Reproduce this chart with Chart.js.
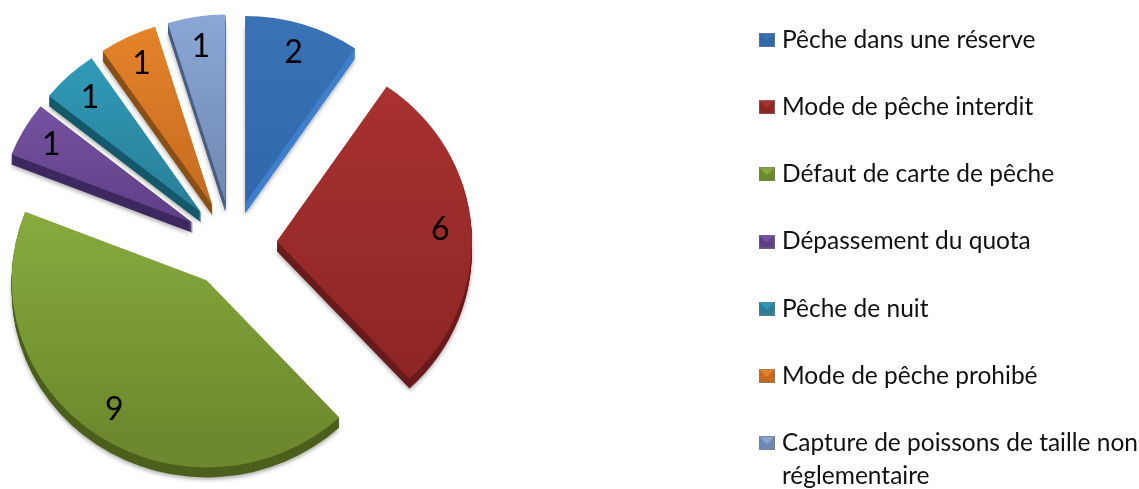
<!DOCTYPE html>
<html lang="fr">
<head>
<meta charset="utf-8">
<title>Infractions</title>
<script src="https://cdn.jsdelivr.net/npm/chart.js@4/dist/chart.umd.min.js"></script>
<style>
  html, body { margin: 0; padding: 0; background: #fff; }
  canvas { display: block; }
</style>
</head>
<body>
<canvas id="pieChart" width="1139" height="489"></canvas>
<script>
const categories = [
    'Pêche dans une réserve',
    'Mode de pêche interdit',
    'Défaut de carte de pêche',
    'Dépassement du quota',
    'Pêche de nuit',
    'Mode de pêche prohibé',
    ['Capture de poissons de taille non', 'réglementaire']
];
const values = [2, 6, 9, 1, 1, 1, 1];
const colorsLight = ['#3a72b6', '#a83230', '#88aa3e', '#7552a0', '#2f9ab8', '#e5832a', '#8aa7d6'];
const colorsDark = ['#3068ab', '#8c2524', '#6e892d', '#5f3f86', '#2a7e96', '#c46a1f', '#7088b1'];
const colorsSide = ['#3f7fcc', '#6b1a1c', '#4c601c', '#3e2960', '#14586b', '#8a4f14', '#4a5f85'];

const SQUASH = 0.96;    // pie is seen slightly tilted
const DEPTH = 10;
const EXPLODE = 45;
const RADIUS = 195;

// petite icone biseautee pour la legende
function legendIcon(light, dark) {
    const c = document.createElement('canvas');
    c.width = 16;
    c.height = 14;
    const g = c.getContext('2d');
    g.fillStyle = dark;
    g.fillRect(0, 0, 16, 14);
    g.fillStyle = light;
    g.beginPath();
    g.moveTo(0, 0);
    g.lineTo(16, 0);
    g.lineTo(8, 8);
    g.closePath();
    g.fill();
    g.strokeStyle = 'rgba(120,120,120,0.6)';
    g.strokeRect(0.5, 0.5, 15, 13);
    return c;
}

function drawSlice(ctx, arc, fill) {
    const saved = arc.options;
    arc.options = Object.assign({}, saved, { backgroundColor: fill, borderWidth: 0 });
    arc.draw(ctx);
    arc.options = saved;
}

const pie3d = {
    id: 'pie3d',
    afterLayout(chart) {
        // le camembert garde la partie gauche, la legende est calee a droite
        Object.assign(chart.chartArea, { left: 0, top: 0, right: 464, bottom: 489, width: 464, height: 489 });
        const legend = chart.legend;
        legend.maxHeight = 800;
        legend.fit();
        legend.left = 721;
        legend.right = 1139;
        legend.top = -15;
        legend.bottom = 600;
    },
    beforeDatasetDraw(chart, args) {
        const ctx = chart.ctx;
        const arcs = args.meta.data;
        const cy = arcs[0].y;
        arcs.forEach((arc, i) => {
            const mid = (arc.startAngle + arc.endAngle) / 2;
            const dx = Math.cos(mid) * EXPLODE;
            const dy = Math.sin(mid) * EXPLODE;
            const place = (shift) => {
                ctx.setTransform(1, 0, 0, SQUASH, dx, cy * (1 - SQUASH) + dy * SQUASH + shift);
            };
            ctx.save();
            ctx.shadowColor = 'rgba(0,0,0,0.35)';
            ctx.shadowBlur = 4;
            ctx.shadowOffsetY = 2;
            place(DEPTH);
            drawSlice(ctx, arc, colorsSide[i]);
            ctx.shadowColor = 'transparent';
            for (let k = DEPTH - 1; k > 0; k--) {
                place(k);
                drawSlice(ctx, arc, colorsSide[i]);
            }
            place(0);
            const ys = [0, Math.sin(arc.startAngle) * RADIUS, Math.sin(arc.endAngle) * RADIUS, Math.sin(mid) * RADIUS];
            const grad = ctx.createLinearGradient(0, cy + Math.min(...ys), 0, cy + Math.max(...ys));
            grad.addColorStop(0, colorsLight[i]);
            grad.addColorStop(1, colorsDark[i]);
            drawSlice(ctx, arc, grad);
            ctx.restore();
        });
        return false;
    },
    afterDatasetsDraw(chart) {
        const ctx = chart.ctx;
        const arcs = chart.getDatasetMeta(0).data;
        ctx.save();
        ctx.font = '32px Lato';
        ctx.fillStyle = '#000';
        ctx.textAlign = 'center';
        ctx.textBaseline = 'middle';
        arcs.forEach((arc, i) => {
            const mid = (arc.startAngle + arc.endAngle) / 2;
            const r = EXPLODE + RADIUS * 0.84;
            ctx.fillText(values[i], arc.x + Math.cos(mid) * r, arc.y + Math.sin(mid) * r * SQUASH);
        });
        ctx.restore();
    }
};

new Chart(document.getElementById('pieChart'), {
    type: 'pie',
    data: {
        labels: categories,
        datasets: [{ data: values, backgroundColor: colorsDark, borderWidth: 0, clip: false }]
    },
    options: {
        responsive: false,
        animation: false,
        radius: RADIUS,
        plugins: {
            tooltip: { enabled: false },
            legend: {
                position: 'right',
                align: 'start',
                labels: {
                    font: { family: 'Lato', size: 24.5, lineHeight: 1.35 },
                    color: '#111',
                    padding: 42.7,
                    usePointStyle: true,
                    pointStyleWidth: 6,
                    generateLabels: () => categories.map((text, i) => ({
                        text: text,
                        fontColor: '#111',
                        pointStyle: legendIcon(colorsLight[i], colorsDark[i]),
                        lineWidth: 0,
                        index: i
                    }))
                }
            }
        }
    },
    plugins: [pie3d]
});
</script>
</body>
</html>
